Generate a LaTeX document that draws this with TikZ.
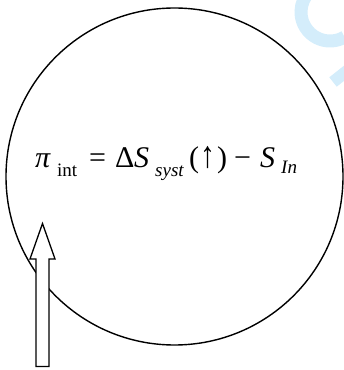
\documentclass[tikz,border=0pt]{standalone}
\usepackage{fontspec}
\usepackage{graphicx}
\setmainfont{Liberation Serif}
\definecolor{wmblue}{RGB}{212,237,251}
\tikzset{
  big/.style={inner sep=0pt, anchor=base west, font=\fontsize{30}{30}\selectfont},
  small/.style={inner sep=0pt, anchor=base west, font=\fontsize{19}{19}\selectfont},
  hollowarrow/.style={draw=black, fill=white, line width=1.3pt, line join=miter},
}
\begin{document}
\begin{tikzpicture}[x=1pt,y=1pt]
\useasboundingbox (0,0) rectangle (344,370);
% watermark fragment
\begin{scope}
\clip (0,0) rectangle (344,370);
\draw[wmblue, line width=13pt] (330,358) ++(100:29) arc[start angle=100, end angle=300, radius=29];
\draw[wmblue, line width=12pt] (333,288) -- (352,303);
\end{scope}
% circle
\node[draw, circle, line width=1.4pt, minimum size=337pt, inner sep=0pt] (c) at (174.5,193.5) {};
% formula
\node[big] (pi) at (35,202) {\textit{π}};
\node[small] (int) at (57,193) {int};
\node[big] (eq) at (89,202) {=};
\node[big] (D) at (115,202) {Δ};
\node[big] (S1) at (134,202) {\textit{S}};
\node[small] (syst) at (155,193) {\textit{syst}};
\node[big] (lp) at (189,202) {(};
\node[big] (up) at (200,202) {\scalebox{1}[1.25]{↑}};
\node[big] (rp) at (217,202) {)};
\node[big] (mi) at (234,202) {−};
\node[big] (S2) at (260,202) {\textit{S}};
\node[small] (In) at (281,196) {\textit{In}};
% hollow block arrow
\draw[hollowarrow] (36,3.5) -- (36,111) -- (30,111) -- (42.5,146.5) -- (55,111) -- (49,111) -- (49,3.5) -- cycle;
\end{tikzpicture}
\end{document}
